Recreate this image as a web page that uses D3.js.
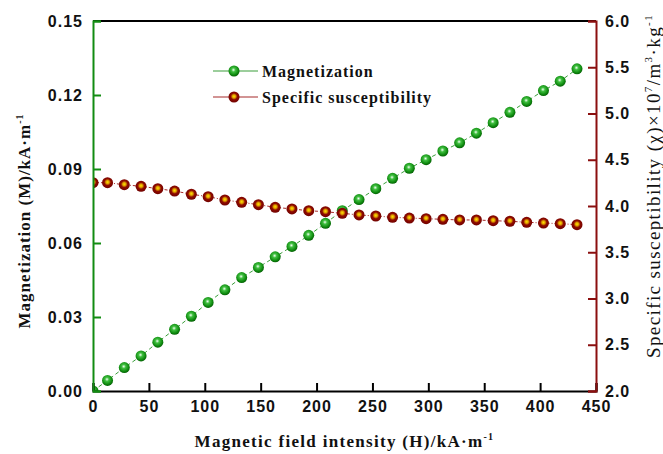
<!DOCTYPE html>
<html>
<head>
<meta charset="utf-8">
<script src="https://cdn.jsdelivr.net/npm/d3@7"></script>
<style>
  body { margin: 0; background: #fff; }
  .tick text { font-family: "Liberation Sans", Arial, sans-serif; font-weight: bold; font-size: 16px; letter-spacing: 1px; fill: #111; }
  .title { font-family: "Liberation Serif", "Times New Roman", serif; font-weight: bold; font-size: 16px; letter-spacing: 1px; fill: #111; }
</style>
</head>
<body>
<div id="chart"></div>
<script>
// field intensity H (kA/m)
let fieldH = [0, 13, 28, 43, 58, 73, 88, 103, 118, 133, 148, 163, 178, 193, 208,
              223, 238, 253, 268, 283, 298, 313, 328, 343, 358, 373, 388, 403, 418, 433];
// magnetization M (kA/m), left axis
let magnetization = [0.000, 0.0043, 0.0095, 0.0142, 0.0198, 0.0250, 0.0303, 0.0359, 0.0410, 0.0460,
                     0.0501, 0.0544, 0.0586, 0.0631, 0.0680, 0.0731, 0.0776, 0.0820, 0.0862, 0.0903,
                     0.0938, 0.0973, 0.1006, 0.1045, 0.1088, 0.1130, 0.1174, 0.1218, 0.1256, 0.1306];
// specific susceptibility x10^7, right axis
let susceptibility = [4.252, 4.252, 4.230, 4.213, 4.187, 4.162, 4.127, 4.101, 4.065, 4.040,
                      4.014, 3.986, 3.968, 3.949, 3.938, 3.921, 3.903, 3.892, 3.878, 3.870,
                      3.863, 3.856, 3.849, 3.849, 3.841, 3.835, 3.824, 3.816, 3.809, 3.798];
let xTicks = [0, 50, 100, 150, 200, 250, 300, 350, 400, 450];
let leftTicks = [0, 0.03, 0.06, 0.09, 0.12, 0.15];
let rightTicks = [2.0, 2.5, 3.0, 3.5, 4.0, 4.5, 5.0, 5.5, 6.0];
let seriesNames = ["Magnetization", "Specific susceptibility"];

let margin = {top: 21, right: 67, bottom: 63, left: 93};
let width = 663 - margin.left - margin.right;
let height = 454 - margin.top - margin.bottom;

let green = "#128c12", darkRed = "#8b0f0f";

let svg = d3.select("#chart")
  .append("svg")
    .attr("width", 663)
    .attr("height", 454);

// sphere-like gradients for markers
let defs = svg.append("defs");
let gGreen = defs.append("radialGradient").attr("id", "ballGreen")
  .attr("cx", "45%").attr("cy", "40%").attr("r", "60%");
gGreen.append("stop").attr("offset", "0%").attr("stop-color", "#f4fff4");
gGreen.append("stop").attr("offset", "30%").attr("stop-color", "#3fbf3f");
gGreen.append("stop").attr("offset", "75%").attr("stop-color", "#0f8a0f");
gGreen.append("stop").attr("offset", "100%").attr("stop-color", "#056005");
let gRed = defs.append("radialGradient").attr("id", "ballRed")
  .attr("cx", "50%").attr("cy", "45%").attr("r", "60%");
gRed.append("stop").attr("offset", "0%").attr("stop-color", "#ffe400");
gRed.append("stop").attr("offset", "25%").attr("stop-color", "#e0a000");
gRed.append("stop").attr("offset", "50%").attr("stop-color", "#8e0a00");
gRed.append("stop").attr("offset", "100%").attr("stop-color", "#6a0000");

// markers are cut at the frame, like the original
defs.append("clipPath").attr("id", "plotClip")
  .append("rect")
    .attr("x", 0).attr("y", 0)
    .attr("width", width).attr("height", height);

let g = svg.append("g")
  .attr("transform", "translate(" + margin.left + "," + margin.top + ")");

let x = d3.scaleLinear().domain([0, 450]).range([0, width]);
let yL = d3.scaleLinear().domain([0, 0.15]).range([height, 0]);
let yR = d3.scaleLinear().domain([2, 6]).range([height, 0]);

// series
let magData = fieldH.map((h, i) => ({h: h, v: magnetization[i]}));
let susData = fieldH.map((h, i) => ({h: h, v: susceptibility[i]}));

let plot = g.append("g").attr("clip-path", "url(#plotClip)");

plot.append("path")
  .datum(magData)
  .attr("fill", "none")
  .attr("stroke", "#3a9e3a")
  .attr("stroke-width", 1)
  .attr("stroke-dasharray", "4,3")
  .attr("d", d3.line().x(d => x(d.h)).y(d => yL(d.v)));

plot.append("path")
  .datum(susData)
  .attr("fill", "none")
  .attr("stroke", "#a52a2a")
  .attr("stroke-width", 1)
  .attr("stroke-dasharray", "3,2,1,2")
  .attr("d", d3.line().x(d => x(d.h)).y(d => yR(d.v)));

plot.append("g").selectAll("circle")
  .data(magData)
  .enter().append("circle")
    .attr("cx", d => x(d.h))
    .attr("cy", d => yL(d.v))
    .attr("r", 5.5)
    .attr("fill", "url(#ballGreen)");

plot.append("g").selectAll("circle")
  .data(susData)
  .enter().append("circle")
    .attr("cx", d => x(d.h))
    .attr("cy", d => yR(d.v))
    .attr("r", 5.5)
    .attr("fill", "url(#ballRed)");

// top frame line
g.append("line")
  .attr("x1", 0).attr("x2", width).attr("y1", 0).attr("y2", 0)
  .attr("stroke", "#000").attr("stroke-width", 2);

// bottom axis
let xAxis = g.append("g")
  .attr("transform", "translate(0," + height + ")")
  .call(d3.axisBottom(x).tickValues(xTicks).tickSize(-8).tickPadding(10).tickFormat(d3.format("d")));
xAxis.select(".domain").attr("stroke", "#000").attr("stroke-width", 2);
xAxis.selectAll(".tick line").attr("stroke", "#000").attr("stroke-width", 2);

// left axis
let leftAxis = g.append("g")
  .call(d3.axisLeft(yL).tickValues(leftTicks).tickSize(-8).tickPadding(10).tickFormat(d3.format(".2f")));
leftAxis.select(".domain").attr("stroke", green).attr("stroke-width", 2);
leftAxis.selectAll(".tick line").attr("stroke", green).attr("stroke-width", 2);

// right axis
let rightAxis = g.append("g")
  .attr("transform", "translate(" + width + ",0)")
  .call(d3.axisRight(yR).tickValues(rightTicks).tickSize(-8).tickPadding(9).tickFormat(d3.format(".1f")));
rightAxis.select(".domain").attr("stroke", darkRed).attr("stroke-width", 2);
rightAxis.selectAll(".tick line").attr("stroke", darkRed).attr("stroke-width", 2);

svg.selectAll(".tick text").attr("font-family", null).attr("font-size", null);

// legend
let legend = svg.selectAll(".legend")
  .data(seriesNames)
  .enter().append("g")
    .attr("class", "legend")
    .attr("transform", (d, i) => "translate(213," + (71 + i * 26) + ")");

legend.append("line")
  .attr("x1", 0).attr("x2", 45)
  .attr("stroke", (d, i) => i === 0 ? "#3a9e3a" : "#a52a2a")
  .attr("stroke-width", 1.2);
legend.append("circle")
  .attr("cx", 21).attr("r", 5.5)
  .attr("fill", (d, i) => i === 0 ? "url(#ballGreen)" : "url(#ballRed)");
legend.append("text")
  .attr("class", "title")
  .attr("x", 49)
  .attr("dy", "0.35em")
  .text(d => d);

// axis titles
let bottomTitle = svg.append("text")
  .attr("class", "title")
  .style("font-size", "17px")
  .style("letter-spacing", "1.3px")
  .attr("x", margin.left + width / 2)
  .attr("y", 447)
  .attr("text-anchor", "middle");
bottomTitle.append("tspan").text("Magnetic field intensity (H)/kA·m");
bottomTitle.append("tspan").attr("dy", -7).attr("font-size", 10).text("-1");

let leftTitle = svg.append("text")
  .attr("class", "title")
  .style("font-size", "17px")
  .attr("transform", "translate(30,221) rotate(-90)")
  .attr("text-anchor", "middle");
leftTitle.append("tspan").text("Magnetization (M)/kA·m");
leftTitle.append("tspan").attr("dy", -7).attr("font-size", 10).text("-1");

let rightTitle = svg.append("text")
  .attr("class", "title")
  .style("font-size", "19px")
  .style("font-weight", "normal")
  .style("letter-spacing", "1.4px")
  .attr("transform", "translate(660,186) rotate(-90)")
  .attr("text-anchor", "middle");
rightTitle.append("tspan").text("Specific susceptibility (χ)×10");
rightTitle.append("tspan").attr("dy", -8).attr("font-size", 11).text("7");
rightTitle.append("tspan").attr("dy", 8).text("/m");
rightTitle.append("tspan").attr("dy", -8).attr("font-size", 11).text("3");
rightTitle.append("tspan").attr("dy", 8).text("·kg");
rightTitle.append("tspan").attr("dy", -8).attr("font-size", 11).text("-1");
</script>
</body>
</html>
